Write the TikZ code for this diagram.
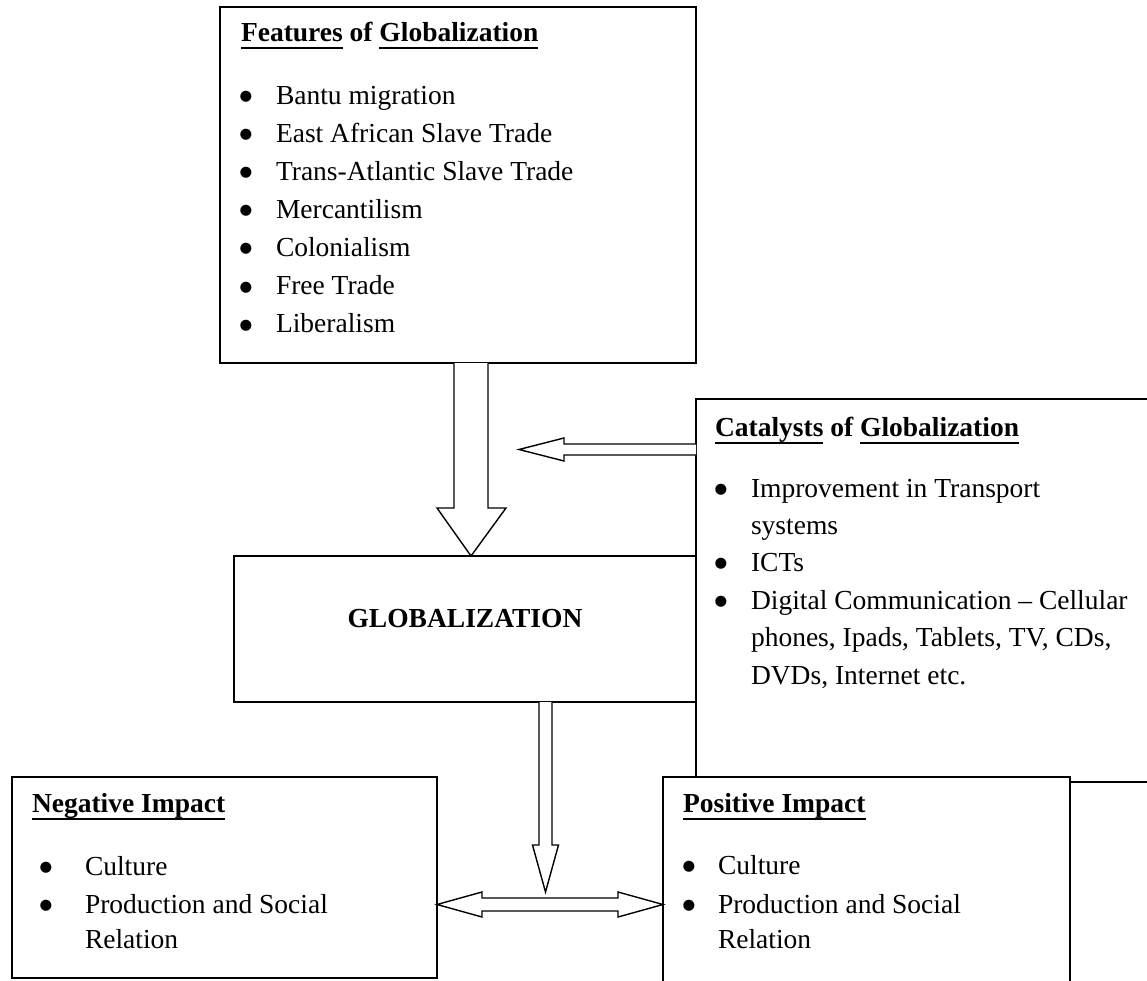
\documentclass[tikz,border=0pt]{standalone}
\usepackage{fontspec}
\setmainfont{Liberation Serif}
\newfontfamily\bulfont{DejaVu Sans}
\usetikzlibrary{calc}
\newcommand\ulw[1]{\setbox0=\hbox{#1}\rlap{\rule[-7pt]{\wd0}{2pt}}\box0\relax}
\newcommand\mybitem[5]{\node[bul] (#1b) at (#2,#4) {●};\node[txt] (#1) at (#3,#4) {#5};}
\begin{document}
\begin{tikzpicture}[x=1pt,y=-1pt,
  every node/.style={font=\fontsize{27.5pt}{33pt}\selectfont, inner sep=0pt, outer sep=0pt},
  hd/.style={font=\fontsize{27.5pt}{33pt}\selectfont\bfseries},
  box/.style={draw, line width=1.6pt, fill=white, anchor=north west},
  txt/.style={anchor=base west},
  bul/.style={anchor=base, font=\bulfont\fontsize{14.5pt}{15pt}\selectfont, yshift=3.8pt},
  blk/.style={draw, line width=1.4pt, fill=white, line join=miter}]
\useasboundingbox (0,0) rectangle (1147,981);
\clip (0,0) rectangle (1147,981);
% boxes
\node[box, minimum width=500pt, minimum height=383pt] (cat) at (696,399) {};
\node[box, minimum width=462pt, minimum height=146pt] (glob) at (234,556) {};
\node[box, minimum width=476pt, minimum height=356pt] (feat) at (220,7) {};
\node[box, minimum width=425pt, minimum height=201pt] (neg) at (12,777) {};
\node[box, minimum width=407pt, minimum height=260pt] (pos) at (663,777) {};
% features text
\node[txt,hd] (fh) at (241,41.7) {\ulw{Features} of \ulw{Globalization}};
\mybitem{f1}{246}{276}{104.3}{Bantu migration}
\mybitem{f2}{246}{276}{142.4}{East African Slave Trade}
\mybitem{f3}{246}{276}{180.5}{Trans-Atlantic Slave Trade}
\mybitem{f4}{246}{276}{218.6}{Mercantilism}
\mybitem{f5}{246}{276}{256.7}{Colonialism}
\mybitem{f6}{246}{276}{294.8}{Free Trade}
\mybitem{f7}{246}{276}{332.9}{Liberalism}
% catalysts text
\node[txt,hd] (ch) at (715,436.7) {\ulw{Catalysts} of \ulw{Globalization}};
\mybitem{c1}{721}{751}{497.3}{Improvement in Transport}
\node[txt] (c1x) at (751,534.5) {systems};
\mybitem{c2}{721}{751}{571.5}{ICTs}
\mybitem{c3}{721}{751}{609}{Digital Communication – Cellular}
\node[txt] (c3x) at (751,646.5) {phones, Ipads, Tablets, TV, CDs,};
\node[txt] (c3y) at (751,684) {DVDs, Internet etc.};
% globalization
\coordinate (gy) at (0,627);
\node[hd, anchor=base] (gt) at (glob.center |- gy) {GLOBALIZATION};
% negative
\node[txt,hd] (nh) at (32,812.5) {\ulw{Negative Impact}};
\mybitem{n1}{46}{85}{875}{Culture}
\mybitem{n2}{46}{85}{913.3}{Production and Social}
\node[txt] (n2x) at (85,948.3) {Relation};
% positive
\node[txt,hd] (ph) at (683,812.5) {\ulw{Positive Impact}};
\mybitem{p1}{689}{718}{874.5}{Culture}
\mybitem{p2}{689}{718}{913}{Production and Social}
\node[txt] (p2x) at (718,948) {Relation};
% arrow features -> globalization
\coordinate (x471) at (471,0);
\coordinate (a1s) at (feat.south -| x471);
\coordinate (a1e) at (glob.north -| x471);
\draw[blk] ($(a1s)+(-17,0)$) -- ($(a1e)+(-17,-48)$) -- ($(a1e)+(-34,-48)$) -- (a1e) -- ($(a1e)+(35,-48)$) -- ($(a1e)+(17,-48)$) -- ($(a1s)+(17,0)$);
% arrow from catalysts
\coordinate (a2e) at (519,449.5);
\coordinate (a2s) at (cat.west |- a2e);
\draw[blk] ($(a2s)+(0,-5.5)$) -- ($(a2e)+(45,-5.5)$) -- ($(a2e)+(45,-11.5)$) -- (a2e) -- ($(a2e)+(45,11.5)$) -- ($(a2e)+(45,5.5)$) -- ($(a2s)+(0,5.5)$);
% arrow from globalization down
\coordinate (a3e) at (545.5,892);
\coordinate (a3s) at (glob.south -| a3e);
\draw[blk] ($(a3s)+(-6.5,0)$) -- ($(a3e)+(-6.5,-47)$) -- ($(a3e)+(-13,-47)$) -- (a3e) -- ($(a3e)+(13,-47)$) -- ($(a3e)+(6.5,-47)$) -- ($(a3s)+(6.5,0)$);
% double arrow between impacts
\coordinate (a4y) at (0,904.5);
\coordinate (a4l) at (neg.east |- a4y);
\coordinate (a4r) at (pos.west |- a4y);
\draw[blk] (a4l) -- ($(a4l)+(45,-12.5)$) -- ($(a4l)+(45,-6.5)$) -- ($(a4r)+(-45,-6.5)$) -- ($(a4r)+(-45,-12.5)$) -- (a4r) -- ($(a4r)+(-45,12.5)$) -- ($(a4r)+(-45,6.5)$) -- ($(a4l)+(45,6.5)$) -- ($(a4l)+(45,12.5)$) -- cycle;
\end{tikzpicture}
\end{document}
